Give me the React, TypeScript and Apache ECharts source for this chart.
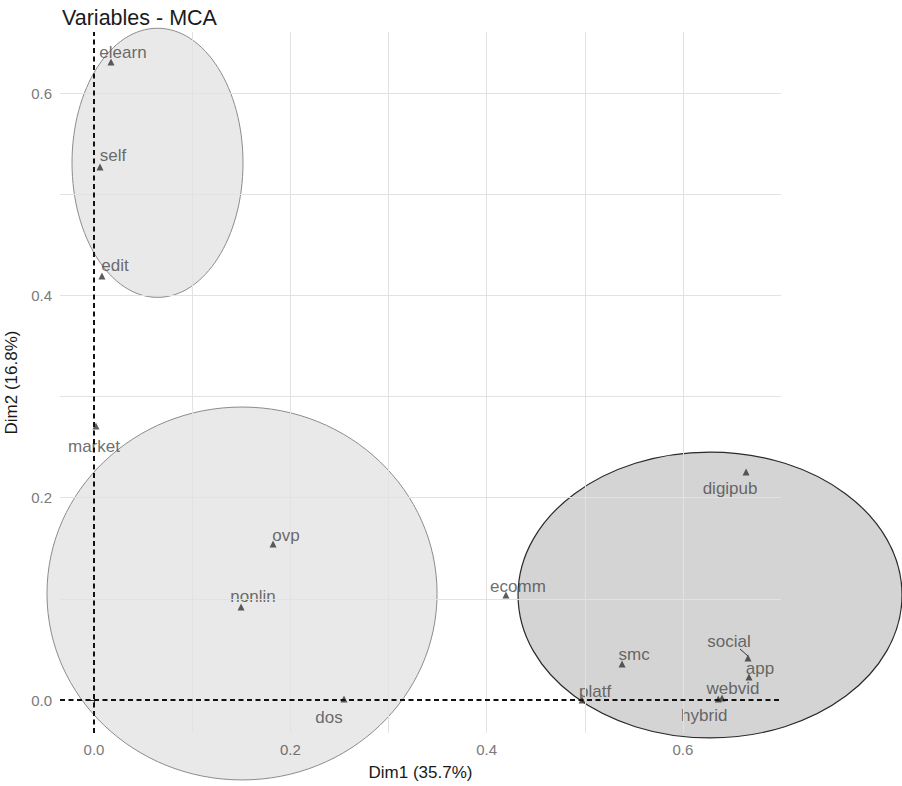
import React, { useEffect, useRef } from "react";
import * as echarts from "echarts";

// Variable categories and their MCA coordinates (Dim1, Dim2)
const categories = ["elearn", "self", "edit", "market", "ovp", "nonlin", "dos", "ecomm", "digipub", "social", "app", "webvid", "hybrid", "platf", "smc"];
const dim1 = [0.0173, 0.0061, 0.0081, 0.002, 0.1824, 0.1498, 0.2547, 0.4197, 0.6643, 0.6663, 0.6673, 0.6398, 0.6360, 0.4972, 0.538];
const dim2 = [0.6306, 0.5268, 0.4191, 0.2708, 0.1542, 0.0919, 0.001, 0.1038, 0.2254, 0.0415, 0.0227, 0.002, 0.0010, 0.0, 0.0356];

// label placement (pixel offsets from the point, like ggrepel output)
const labelDx = [12, 13, 13, -2, 13, 12, -15, 12, -16, -19, 11, 11, -14, 13, 12];
const labelDy = [-10, -12, -11, 20, -9, -11, 18, -9, 17, -17, -9, -9, 16, -9, -10];

// tick labels
const xTicks = [0, 0.2, 0.4, 0.6];
const yTicks = [0, 0.2, 0.4, 0.6];
const xGrid = [0.1, 0.2, 0.3, 0.4, 0.5, 0.6, 0.7];
const yGrid = [0.1, 0.2, 0.3, 0.4, 0.5, 0.6];

// cluster ellipses (data units)
const ellipseCx = [0.0647, 0.1508, 0.6276];
const ellipseCy = [0.531, 0.1053, 0.1038];
const ellipseRx = [0.0871, 0.1987, 0.1956];
const ellipseRy = [0.133, 0.1843, 0.1413];
const ellipseDark = [0, 0, 1];

// repel segment (social label -> point)
const segmentIdx = [9];
const segDx = [-8];
const segDy = [-9];

const FONT = "'Liberation Sans', Arial, Helvetica, sans-serif";

export default function App() {
  const ref = useRef<HTMLDivElement>(null);
  useEffect(() => {
    if (!ref.current) return;
    const chart = echarts.init(ref.current, null, { renderer: "svg" });
    const points = categories.map((c, i) => ({
      name: c,
      value: [dim1[i], dim2[i]],
      label: { offset: [labelDx[i], labelDy[i]] },
    }));
    const ellipses = ellipseCx.map((cx, i) => [cx, ellipseCy[i], ellipseRx[i], ellipseRy[i], ellipseDark[i]]);
    const segs = segmentIdx.map((k, i) => [dim1[k], dim2[k], segDx[i], segDy[i]]);
    const gridColor = "#e2e2e2";
    chart.setOption({
      animation: false,
      backgroundColor: "#ffffff",
      textStyle: { fontFamily: FONT },
      title: {
        text: "Variables - MCA",
        left: 57,
        top: 2,
        textStyle: { fontSize: 21.5, fontWeight: "normal", color: "#1a1a1a", fontFamily: FONT },
      },
      grid: { left: 60, right: 121, top: 32, bottom: 53, containLabel: false, outerBoundsMode: "none" },
      xAxis: {
        type: "value",
        min: -0.03464,
        max: 0.6999,
        name: "Dim1 (35.7%)",
        nameLocation: "middle",
        nameGap: 31,
        nameTextStyle: { fontSize: 17, color: "#1a1a1a", fontFamily: FONT },
        axisLine: { show: false },
        splitLine: { show: false },
        axisTick: { show: true, length: 4, customValues: xTicks, lineStyle: { color: "#333" } },
        axisLabel: {
          customValues: xTicks,
          margin: 9,
          fontSize: 15,
          color: "#7a7a7a",
          fontFamily: FONT,
          formatter: (v: number) => v.toFixed(1),
        },
      },
      yAxis: {
        type: "value",
        min: -0.0326,
        max: 0.6603,
        name: "Dim2 (16.8%)",
        nameLocation: "middle",
        nameGap: 37,
        nameTextStyle: { fontSize: 17, color: "#1a1a1a", fontFamily: FONT },
        axisLine: { show: false },
        splitLine: { show: false },
        axisTick: { show: true, length: 4, customValues: yTicks, lineStyle: { color: "#333" } },
        axisLabel: {
          customValues: yTicks,
          margin: 8,
          fontSize: 15,
          color: "#7a7a7a",
          fontFamily: FONT,
          formatter: (v: number) => v.toFixed(1),
        },
      },
      series: [
        {
          type: "scatter",
          data: [],
          silent: true,
          z: 0,
          markLine: {
            silent: true,
            symbol: ["none", "none"],
            label: { show: false },
            lineStyle: { color: gridColor, type: "solid", width: 1 },
            data: [
              ...xGrid.map((v) => ({ xAxis: v })),
              ...yGrid.map((v) => ({ yAxis: v })),
            ],
          },
        },
        {
          type: "custom",
          clip: false,
          silent: true,
          z: 1,
          data: ellipses,
          renderItem: (params: any, api: any) => {
            const c = api.coord([api.value(0), api.value(1)]);
            const s = api.size([api.value(2), api.value(3)]);
            const dark = api.value(4) === 1;
            return {
              type: "ellipse",
              shape: { cx: c[0], cy: c[1], rx: s[0], ry: s[1] },
              style: {
                fill: dark ? "rgba(0,0,0,0.17)" : "rgba(0,0,0,0.085)",
                stroke: dark ? "#2a2a2a" : "#8c8c8c",
                lineWidth: dark ? 1.2 : 1,
              },
            };
          },
        },
        {
          type: "scatter",
          data: [],
          silent: true,
          z: 2,
          markLine: {
            silent: true,
            symbol: ["none", "none"],
            label: { show: false },
            lineStyle: { color: "#111", type: [5, 3.5], width: 2 },
            data: [{ xAxis: 0 }, { yAxis: 0 }],
          },
        },
        {
          type: "custom",
          clip: false,
          silent: true,
          z: 3,
          data: segs,
          renderItem: (params: any, api: any) => {
            const c = api.coord([api.value(0), api.value(1)]);
            return {
              type: "line",
              shape: { x1: c[0], y1: c[1] - 2, x2: c[0] + api.value(2), y2: c[1] + api.value(3) },
              style: { stroke: "#333", lineWidth: 1 },
            };
          },
        },
        {
          type: "scatter",
          z: 4,
          symbol: "triangle",
          symbolSize: 7,
          itemStyle: { color: "#333" },
          data: points,
          label: {
            show: true,
            position: "inside",
            formatter: (p: any) => p.name,
            fontSize: 17,
            color: "#474747",
            fontFamily: FONT,
          },
        },
      ],
    });
    return () => chart.dispose();
  }, []);
  return <div ref={ref} style={{ position: "fixed", left: 0, top: 0, width: 902, height: 786 }} />;
}
